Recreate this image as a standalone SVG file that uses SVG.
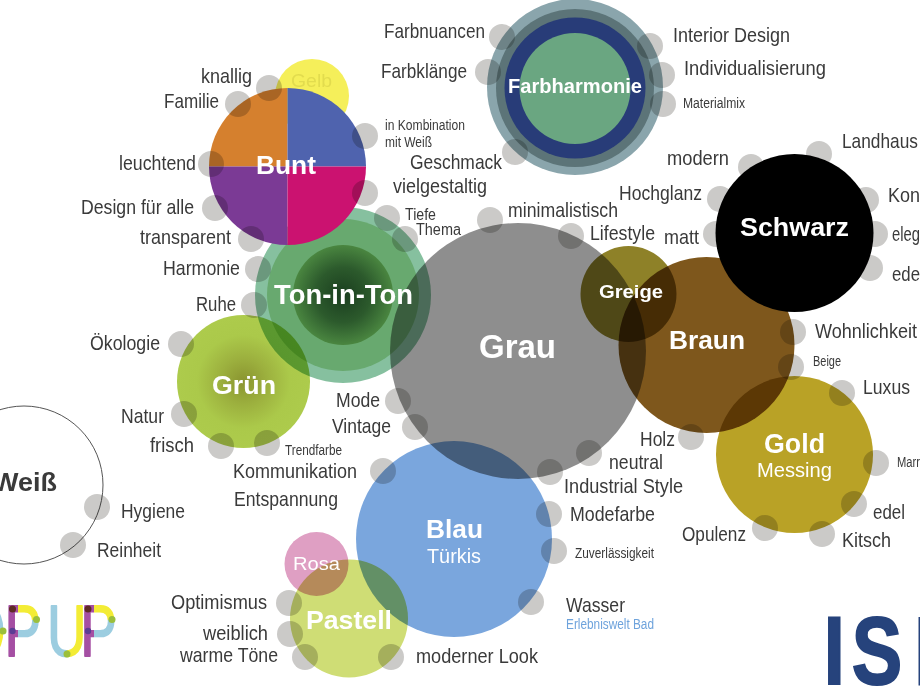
<svg xmlns="http://www.w3.org/2000/svg" width="920" height="690" viewBox="0 0 920 690">
<style>
text{font-family:"Liberation Sans",Arial,sans-serif}
.l{font-size:21px;fill:#3a3a3a}
.s{font-size:14px;fill:#3a3a3a}
.t{font-weight:bold;fill:#fff;font-size:26px}
.r{fill:#fff}
.d{fill:#cbcac8;mix-blend-mode:multiply}
.m{mix-blend-mode:multiply}
.e{fill:#cbcac8}
</style>
<defs>
<radialGradient id="gTon"><stop offset="0" stop-color="#1a3e1f"/><stop offset="0.55" stop-color="#2c5a2c"/><stop offset="1" stop-color="#4a8640"/></radialGradient>
<radialGradient id="gGr"><stop offset="0" stop-color="#8a9430"/><stop offset="0.35" stop-color="#9cb03e"/><stop offset="0.7" stop-color="#abc94a"/><stop offset="1" stop-color="#adcb4c"/></radialGradient>
<pattern id="pop" patternUnits="userSpaceOnUse" width="920" height="690" patternTransform="scale(1.3333 1)">
<rect x="0" y="590" width="8" height="41" fill="#9ccde0"/>
<rect x="0" y="631" width="8" height="40" fill="#f3ec35"/>
<rect x="8" y="590" width="10" height="80" fill="#a54fa3"/>
<rect x="18" y="590" width="29" height="30" fill="#f3ec35"/>
<rect x="18" y="620" width="29" height="50" fill="#9ccde0"/>
<rect x="47" y="590" width="20" height="80" fill="#9ccde0"/>
<rect x="67" y="590" width="17" height="80" fill="#f3ec35"/>
<rect x="84" y="590" width="10" height="80" fill="#a54fa3"/>
<rect x="94" y="590" width="29" height="30" fill="#f3ec35"/>
<rect x="94" y="620" width="29" height="50" fill="#9ccde0"/>
</pattern>
</defs>
<rect width="920" height="690" fill="#fff"/>

<g id="node-weiss"><circle cx="24" cy="485" r="79" fill="#fff" stroke="#555" stroke-width="1"/></g>
<g id="node-gelb"><circle cx="312" cy="96" r="37" fill="#f5ef5a"/><text x="291" y="87" font-size="18" fill="#e2dc4e" textLength="41" lengthAdjust="spacingAndGlyphs">Gelb</text></g>
<g id="node-ton-in-ton" class="m"><circle cx="343" cy="295" r="88" fill="#86c09f"/><circle cx="343" cy="295" r="76" fill="#68a96f"/><circle cx="343" cy="295" r="50" fill="url(#gTon)"/></g>
<g id="node-bunt">
<path d="M287.500 166.500V88A78.500 78.500 0 0 0 209 166.500Z" fill="#d5802e"/>
<path d="M287.500 166.500V88A78.500 78.500 0 0 1 366 166.500Z" fill="#4f63ae"/>
<path d="M287.500 166.500H209A78.500 78.500 0 0 0 287.500 245Z" fill="#7b3a95"/>
<path d="M287.500 166.500H366A78.500 78.500 0 0 1 287.500 245Z" fill="#cb1270"/>
</g>
<g id="node-gruen" class="m"><circle cx="243.500" cy="381.500" r="66.500" fill="url(#gGr)"/></g>
<g id="node-grau" class="m"><circle cx="518" cy="351" r="128" fill="#8e8e8e"/></g>
<g id="node-farbharmonie" class="m"><circle cx="575" cy="87" r="88" fill="#8aa5ac"/><circle cx="575" cy="88" r="79" fill="#5c7478"/><circle cx="575" cy="88" r="70.500" fill="#283c78"/><circle cx="575" cy="88.500" r="55.500" fill="#6aa681"/></g>
<g id="node-greige" class="m"><circle cx="628.500" cy="294" r="48" fill="#8e8128"/></g>
<g id="node-braun" class="m"><circle cx="706.500" cy="345" r="88" fill="#7e571c"/></g>
<g id="node-gold" class="m"><circle cx="794.500" cy="454.500" r="78.500" fill="#b9a226"/></g>
<g id="node-blau" class="m"><circle cx="454" cy="539" r="98" fill="#7aa6dd"/></g>
<g id="node-rosa" class="m"><circle cx="316.500" cy="564" r="32" fill="#df9fc3"/></g>
<g id="node-pastell" class="m"><circle cx="349" cy="618.500" r="59" fill="#cfdd75"/></g>

<g id="connectors">
<circle class="d" cx="502" cy="37" r="13"/><circle class="d" cx="488" cy="72" r="13"/><circle class="d" cx="650" cy="46" r="13"/><circle class="d" cx="662" cy="75" r="13"/><circle class="d" cx="663" cy="104" r="13"/><circle class="d" cx="515" cy="152" r="13"/>
<circle class="d" cx="269" cy="88" r="13"/><circle class="d" cx="238" cy="104" r="13"/><circle class="d" cx="211" cy="164" r="13"/><circle class="d" cx="215" cy="208" r="13"/><circle class="d" cx="251" cy="239" r="13"/><circle class="d" cx="365" cy="136" r="13"/><circle class="d" cx="365" cy="193" r="13"/><circle class="d" cx="387" cy="218" r="13"/><circle class="d" cx="405" cy="239" r="13"/>
<circle class="d" cx="258" cy="269" r="13"/><circle class="d" cx="254" cy="305" r="13"/><circle class="d" cx="181" cy="344" r="13"/><circle class="d" cx="184" cy="414" r="13"/><circle class="d" cx="221" cy="446" r="13"/><circle class="d" cx="267" cy="443" r="13"/><circle class="d" cx="398" cy="401" r="13"/><circle class="d" cx="415" cy="427" r="13"/><circle class="d" cx="383" cy="471" r="13"/>
<circle class="d" cx="490" cy="220" r="13"/><circle class="d" cx="571" cy="236" r="13"/>
<circle class="d" cx="793" cy="332" r="13"/><circle class="d" cx="791" cy="367" r="13"/><circle class="d" cx="691" cy="437" r="13"/>
<circle class="d" cx="842" cy="393" r="13"/><circle class="d" cx="876" cy="463" r="13"/><circle class="d" cx="854" cy="504" r="13"/><circle class="d" cx="822" cy="534" r="13"/><circle class="d" cx="765" cy="528" r="13"/>
<circle class="d" cx="589" cy="453" r="13"/><circle class="d" cx="550" cy="472" r="13"/><circle class="d" cx="549" cy="514" r="13"/><circle class="d" cx="554" cy="551" r="13"/><circle class="d" cx="531" cy="602" r="13"/>
<circle class="d" cx="289" cy="603" r="13"/><circle class="d" cx="290" cy="634" r="13"/><circle class="d" cx="305" cy="657" r="13"/><circle class="d" cx="391" cy="657" r="13"/>
<circle class="d" cx="97" cy="507" r="13"/><circle class="d" cx="73" cy="545" r="13"/>
<circle class="e" cx="751" cy="167" r="13"/><circle class="e" cx="819" cy="154" r="13"/><circle class="e" cx="720" cy="199" r="13"/><circle class="e" cx="716" cy="234" r="13"/><circle class="e" cx="866" cy="200" r="13"/><circle class="e" cx="875" cy="234" r="13"/><circle class="e" cx="870" cy="268" r="13"/>
</g>
<g id="node-schwarz"><circle cx="794.500" cy="233" r="79" fill="#000"/></g>

<g id="titles">
<text class="t" x="508" y="93" style="font-size:20px" textLength="134" lengthAdjust="spacingAndGlyphs">Farbharmonie</text>
<text class="t" x="256" y="174" textLength="60" lengthAdjust="spacingAndGlyphs">Bunt</text>
<text class="t" x="274" y="304" style="font-size:27px" textLength="139" lengthAdjust="spacingAndGlyphs">Ton-in-Ton</text>
<text class="t" x="212" y="394" textLength="64" lengthAdjust="spacingAndGlyphs">Grün</text>
<text class="t" x="479" y="358" style="font-size:33px" textLength="77" lengthAdjust="spacingAndGlyphs">Grau</text>
<text class="t" x="599" y="298" style="font-size:19px" textLength="64" lengthAdjust="spacingAndGlyphs">Greige</text>
<text class="t" x="669" y="349" textLength="76" lengthAdjust="spacingAndGlyphs">Braun</text>
<text class="t" x="740" y="236" textLength="109" lengthAdjust="spacingAndGlyphs">Schwarz</text>
<text class="t" x="764" y="453" style="font-size:27px" textLength="61" lengthAdjust="spacingAndGlyphs">Gold</text>
<text class="r" x="757" y="477" font-size="21" textLength="75" lengthAdjust="spacingAndGlyphs">Messing</text>
<text class="t" x="426" y="538" textLength="57" lengthAdjust="spacingAndGlyphs">Blau</text>
<text class="r" x="427" y="563" font-size="20" textLength="54" lengthAdjust="spacingAndGlyphs">Türkis</text>
<text class="r" x="293" y="570" font-size="19" textLength="47" lengthAdjust="spacingAndGlyphs">Rosa</text>
<text class="t" x="306" y="629" style="font-size:25px" textLength="86" lengthAdjust="spacingAndGlyphs">Pastell</text>
<text class="t" x="-7" y="491" style="fill:#3a3a3a" textLength="64" lengthAdjust="spacingAndGlyphs">Weiß</text>
</g>

<g id="labels">
<text class="l" x="384" y="38" textLength="101" lengthAdjust="spacingAndGlyphs">Farbnuancen</text>
<text class="l" x="381" y="78" textLength="86" lengthAdjust="spacingAndGlyphs">Farbklänge</text>
<text class="l" x="673" y="42" textLength="117" lengthAdjust="spacingAndGlyphs">Interior Design</text>
<text class="l" x="684" y="75" textLength="142" lengthAdjust="spacingAndGlyphs">Individualisierung</text>
<text class="s" x="683" y="108" textLength="62" lengthAdjust="spacingAndGlyphs">Materialmix</text>
<text class="l" x="201" y="83" textLength="51" lengthAdjust="spacingAndGlyphs">knallig</text>
<text class="l" x="164" y="108" textLength="55" lengthAdjust="spacingAndGlyphs">Familie</text>
<text class="l" x="119" y="170" textLength="77" lengthAdjust="spacingAndGlyphs">leuchtend</text>
<text class="l" x="81" y="214" textLength="113" lengthAdjust="spacingAndGlyphs">Design für alle</text>
<text class="l" x="140" y="244" textLength="91" lengthAdjust="spacingAndGlyphs">transparent</text>
<text class="l" x="163" y="275" textLength="77" lengthAdjust="spacingAndGlyphs">Harmonie</text>
<text class="l" x="196" y="311" textLength="40" lengthAdjust="spacingAndGlyphs">Ruhe</text>
<text class="l" x="90" y="350" textLength="70" lengthAdjust="spacingAndGlyphs">Ökologie</text>
<text class="l" x="121" y="423" textLength="43" lengthAdjust="spacingAndGlyphs">Natur</text>
<text class="l" x="150" y="452" textLength="44" lengthAdjust="spacingAndGlyphs">frisch</text>
<text class="s" x="285" y="455" textLength="57" lengthAdjust="spacingAndGlyphs">Trendfarbe</text>
<text class="l" x="233" y="478" textLength="124" lengthAdjust="spacingAndGlyphs">Kommunikation</text>
<text class="l" x="234" y="506" textLength="104" lengthAdjust="spacingAndGlyphs">Entspannung</text>
<text class="l" x="336" y="407" textLength="44" lengthAdjust="spacingAndGlyphs">Mode</text>
<text class="l" x="332" y="433" textLength="59" lengthAdjust="spacingAndGlyphs">Vintage</text>
<text class="s" x="385" y="130" textLength="80" lengthAdjust="spacingAndGlyphs">in Kombination</text>
<text class="s" x="385" y="147" textLength="47" lengthAdjust="spacingAndGlyphs">mit Weiß</text>
<text class="l" x="410" y="169" textLength="92" lengthAdjust="spacingAndGlyphs">Geschmack</text>
<text class="l" x="393" y="193" textLength="94" lengthAdjust="spacingAndGlyphs">vielgestaltig</text>
<text class="s" x="405" y="220" style="font-size:16px" textLength="31" lengthAdjust="spacingAndGlyphs">Tiefe</text>
<text class="s" x="416" y="235" style="font-size:16px" textLength="45" lengthAdjust="spacingAndGlyphs">Thema</text>
<text class="l" x="508" y="217" textLength="110" lengthAdjust="spacingAndGlyphs">minimalistisch</text>
<text class="l" x="590" y="240" textLength="65" lengthAdjust="spacingAndGlyphs">Lifestyle</text>
<text class="l" x="667" y="165" textLength="62" lengthAdjust="spacingAndGlyphs">modern</text>
<text class="l" x="619" y="200" textLength="83" lengthAdjust="spacingAndGlyphs">Hochglanz</text>
<text class="l" x="664" y="244" textLength="35" lengthAdjust="spacingAndGlyphs">matt</text>
<text class="l" x="842" y="148" textLength="76" lengthAdjust="spacingAndGlyphs">Landhaus</text>
<text class="l" x="888" y="202" textLength="32" lengthAdjust="spacingAndGlyphs">Kon</text>
<text class="l" x="892" y="241" textLength="28" lengthAdjust="spacingAndGlyphs">eleg</text>
<text class="l" x="892" y="281" textLength="28" lengthAdjust="spacingAndGlyphs">ede</text>
<text class="l" x="815" y="338" textLength="102" lengthAdjust="spacingAndGlyphs">Wohnlichkeit</text>
<text class="s" x="813" y="366" textLength="28" lengthAdjust="spacingAndGlyphs">Beige</text>
<text class="l" x="863" y="394" textLength="47" lengthAdjust="spacingAndGlyphs">Luxus</text>
<text class="s" x="897" y="467" textLength="23" lengthAdjust="spacingAndGlyphs">Marr</text>
<text class="l" x="873" y="519" textLength="32" lengthAdjust="spacingAndGlyphs">edel</text>
<text class="l" x="842" y="547" textLength="49" lengthAdjust="spacingAndGlyphs">Kitsch</text>
<text class="l" x="682" y="541" textLength="64" lengthAdjust="spacingAndGlyphs">Opulenz</text>
<text class="l" x="640" y="446" textLength="35" lengthAdjust="spacingAndGlyphs">Holz</text>
<text class="l" x="609" y="469" textLength="54" lengthAdjust="spacingAndGlyphs">neutral</text>
<text class="l" x="564" y="493" textLength="119" lengthAdjust="spacingAndGlyphs">Industrial Style</text>
<text class="l" x="570" y="521" textLength="85" lengthAdjust="spacingAndGlyphs">Modefarbe</text>
<text class="s" x="575" y="558" textLength="79" lengthAdjust="spacingAndGlyphs">Zuverlässigkeit</text>
<text class="l" x="566" y="612" textLength="59" lengthAdjust="spacingAndGlyphs">Wasser</text>
<text class="s" x="566" y="629" style="fill:#6ea3dc" textLength="88" lengthAdjust="spacingAndGlyphs">Erlebniswelt Bad</text>
<text class="l" x="171" y="609" textLength="96" lengthAdjust="spacingAndGlyphs">Optimismus</text>
<text class="l" x="203" y="640" textLength="65" lengthAdjust="spacingAndGlyphs">weiblich</text>
<text class="l" x="180" y="662" textLength="98" lengthAdjust="spacingAndGlyphs">warme Töne</text>
<text class="l" x="416" y="663" textLength="122" lengthAdjust="spacingAndGlyphs">moderner Look</text>
<text class="l" x="121" y="518" textLength="64" lengthAdjust="spacingAndGlyphs">Hygiene</text>
<text class="l" x="97" y="557" textLength="64" lengthAdjust="spacingAndGlyphs">Reinheit</text>
</g>

<g id="logo-popup">
<text transform="scale(.75 1)" x="-49 6.500 50 63 107.500" y="656" font-size="72" fill="url(#pop)" stroke="url(#pop)" stroke-width="2" stroke-linejoin="round">OP UP</text>
<circle cx="12.500" cy="609" r="3.500" fill="#5e2b25"/><circle cx="88" cy="609" r="3.500" fill="#5e2b25"/>
<circle cx="36.500" cy="619.500" r="3.500" fill="#9bbf3b"/><circle cx="112" cy="619.500" r="3.500" fill="#9bbf3b"/>
<circle cx="3" cy="631" r="3.500" fill="#9bbf3b"/><circle cx="67" cy="654" r="3.500" fill="#9bbf3b"/>
<circle cx="12.500" cy="631" r="3.200" fill="#5b3d94"/><circle cx="88" cy="631" r="3.200" fill="#5b3d94"/>
</g>
<g id="logo-isp">
<text transform="scale(.78 1)" x="1056 1092 1172" y="684" font-size="97" font-weight="bold" fill="#26437c" stroke="#26437c" stroke-width="2">ISP</text>
</g>
</svg>
